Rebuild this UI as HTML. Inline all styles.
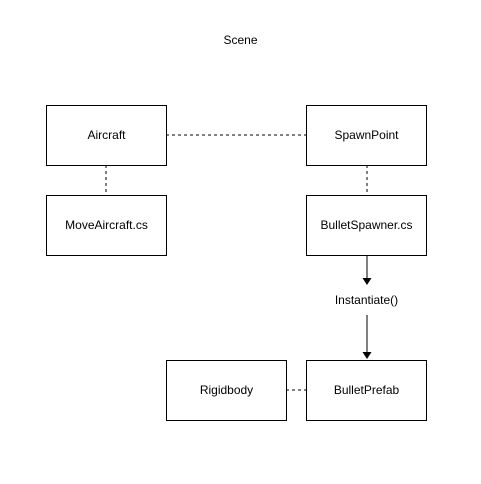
<!DOCTYPE html>
<html><head><style>body{margin:0;background:#fff}</style></head><body>
<svg width="481" height="479" xmlns="http://www.w3.org/2000/svg" font-family="Liberation Sans, Arial, sans-serif" font-size="12">
<rect width="481" height="479" fill="#fff"/>
<text x="240.5" y="44" text-anchor="middle">Scene</text>
<g stroke="#000" fill="none">
<line x1="166" y1="135" x2="307" y2="135" stroke-dasharray="3,3"/>
<line x1="106" y1="165" x2="106" y2="195" stroke-dasharray="3,3"/>
<line x1="367" y1="165" x2="367" y2="195" stroke-dasharray="3,3"/>
<line x1="286" y1="390" x2="306" y2="390" stroke-dasharray="3,3"/>
<line x1="367" y1="255" x2="367" y2="279"/>
<line x1="367" y1="315" x2="367" y2="354"/>
<rect x="46.5" y="105.5" width="120" height="60" fill="#fff"/>
<rect x="306.5" y="105.5" width="120" height="60" fill="#fff"/>
<rect x="46.5" y="195.5" width="120" height="60" fill="#fff"/>
<rect x="306.5" y="195.5" width="120" height="60" fill="#fff"/>
<rect x="166.5" y="360.5" width="120" height="60" fill="#fff"/>
<rect x="306.5" y="360.5" width="120" height="60" fill="#fff"/>
</g>
<polygon points="362.5,278 371.5,278 367,285" fill="#000"/>
<polygon points="362.5,352 371.5,352 367,359" fill="#000"/>
<g text-anchor="middle">
<text x="106.5" y="139">Aircraft</text>
<text x="366.5" y="139">SpawnPoint</text>
<text x="106.5" y="229">MoveAircraft.cs</text>
<text x="366.5" y="229">BulletSpawner.cs</text>
<text x="366.5" y="304">Instantiate()</text>
<text x="226.5" y="394">Rigidbody</text>
<text x="366.5" y="394">BulletPrefab</text>
</g>
</svg>
</body></html>
